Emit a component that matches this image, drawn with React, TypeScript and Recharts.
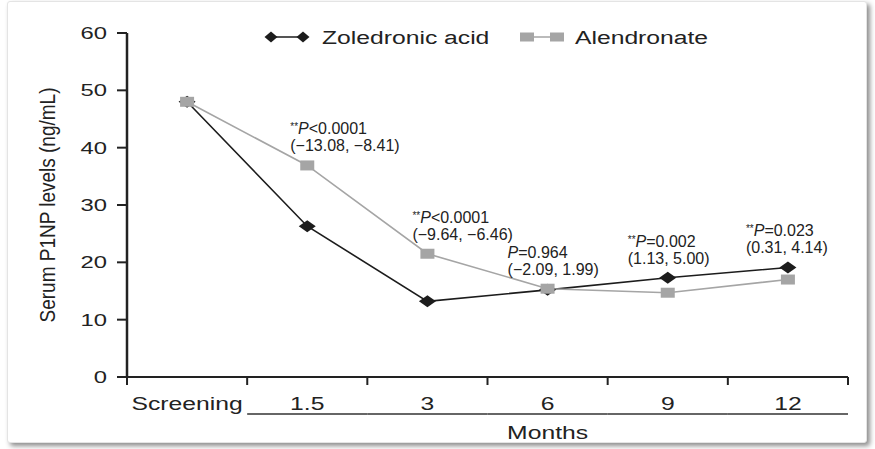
import React from 'react';
import { LineChart, Line, XAxis, YAxis, Legend, Label } from 'recharts';

const categories = ['Screening', '1.5', '3', '6', '9', '12'];
const zoledronicAcid = [48.0, 26.3, 13.2, 15.2, 17.3, 19.1];
const alendronate = [48.0, 36.9, 21.5, 15.4, 14.7, 17.0];
const yTicks = [0, 10, 20, 30, 40, 50, 60];

// between-group comparison at each visit
const pStars = [false, true, true, false, true, true];
const pValues = ['', '<0.0001', '<0.0001', '=0.964', '=0.002', '=0.023'];
const confidenceIntervals = [
  '',
  '(\u221213.08, \u22128.41)',
  '(\u22129.64, \u22126.46)',
  '(\u22122.09, 1.99)',
  '(1.13, 5.00)',
  '(0.31, 4.14)',
];

// horizontal shift of each annotation block from its point
const annotationDx = [0, -17, -15, -40, -40, -42];
const legendX: Record<string, number> = { zol: 265, aln: 520 };

const FONT = '"Liberation Sans", Arial, Helvetica, sans-serif';
const INK = '#222';
const ZOL_COLOR = '#1c1c1c';
const ALN_COLOR = '#a5a5a5';

const data = categories.map((name, i) => ({
  pos: i + 0.5,
  name,
  zol: zoledronicAcid[i],
  aln: alendronate[i],
}));

// band edges get tick marks, band centres get the visit labels
const xTicks: number[] = [];
for (let i = 0; i <= categories.length; i++) {
  xTicks.push(i);
  if (i < categories.length) xTicks.push(i + 0.5);
}

const Diamond = ({ cx, cy, w, h, fill }: any) => (
  <polygon
    points={`${cx},${cy - h / 2} ${cx + w / 2},${cy} ${cx},${cy + h / 2} ${cx - w / 2},${cy}`}
    fill={fill}
  />
);

const Square = ({ cx, cy, w, h, fill }: any) => (
  <rect x={cx - w / 2} y={cy - h / 2} width={w} height={h} fill={fill} />
);

function Annotation({ x, y, index }: { x: number; y: number; index: number }) {
  if (!pValues[index]) return null;
  const left = x + annotationDx[index];
  return (
    <text fontFamily={FONT} fontSize={16} fill={INK}>
      <tspan x={left} y={y - 31}>
        {pStars[index] && (
          <tspan fontSize={10} dy={-4}>
            **
          </tspan>
        )}
        <tspan fontStyle="italic" dy={pStars[index] ? 4 : 0}>
          P
        </tspan>
        <tspan>{pValues[index]}</tspan>
      </tspan>
      <tspan x={left} y={y - 14}>
        {confidenceIntervals[index]}
      </tspan>
    </text>
  );
}

const ZolDot = (props: any) => {
  const { cx, cy, index } = props;
  const onTop = zoledronicAcid[index] > alendronate[index];
  return (
    <g key={`zol-${index}`}>
      <Diamond cx={cx} cy={cy} w={17} h={12} fill={ZOL_COLOR} />
      {onTop && <Annotation x={cx} y={cy} index={index} />}
    </g>
  );
};

const AlnDot = (props: any) => {
  const { cx, cy, index } = props;
  const onTop = alendronate[index] >= zoledronicAcid[index];
  return (
    <g key={`aln-${index}`}>
      <Square cx={cx} cy={cy} w={14} h={10} fill={ALN_COLOR} />
      {onTop && <Annotation x={cx} y={cy} index={index} />}
    </g>
  );
};

const VisitTick = (props: any) => {
  const { x, y, payload, width } = props;
  const v = payload.value;
  if (Number.isInteger(v)) {
    return <line x1={x} x2={x} y1={y} y2={y + 8} stroke={INK} strokeWidth={2} />;
  }
  const i = Math.floor(v);
  const band = (width ?? 721) / categories.length;
  return (
    <g>
      <text
        transform={`translate(${x},${y + 33}) scale(1.3,1)`}
        textAnchor="middle"
        fontFamily={FONT}
        fontSize={19}
        fill={INK}
      >
        {categories[i]}
      </text>
      {i > 0 && (
        <line x1={x - band / 2} x2={x + band / 2} y1={y + 37} y2={y + 37} stroke="#333" strokeWidth={1.5} />
      )}
    </g>
  );
};

const LevelTick = (props: any) => {
  const { x, y, payload } = props;
  return (
    <text
      transform={`translate(${x},${y + 6}) scale(1.4,1)`}
      textAnchor="end"
      fontFamily={FONT}
      fontSize={17}
      fill={INK}
    >
      {payload.value}
    </text>
  );
};

const MonthsLabel = (props: any) => {
  const vb = props.viewBox ?? { x: 127, y: 377, width: 721 };
  const n = categories.length;
  // centred under the follow-up visits (everything after screening)
  const cx = vb.x + (vb.width * (1 + n)) / (2 * n);
  return (
    <text
      transform={`translate(${cx},${vb.y + 62}) scale(1.3,1)`}
      textAnchor="middle"
      fontFamily={FONT}
      fontSize={19}
      fill={INK}
    >
      Months
    </text>
  );
};

const LevelLabel = (props: any) => {
  const vb = props.viewBox ?? { x: 27, y: 33, width: 100, height: 344 };
  const cx = vb.x + 20;
  const cy = vb.y + vb.height / 2;
  return (
    <text
      transform={`translate(${cx},${cy}) scale(1.2,1) rotate(-90)`}
      textAnchor="middle"
      dy="0.36em"
      fontFamily={FONT}
      fontSize={19}
      fill={INK}
    >
      Serum P1NP levels (ng/mL)
    </text>
  );
};

const renderLegend = (props: any) => {
  const payload = props.payload ?? [];
  return (
    <svg width={875} height={30} style={{ display: 'block' }}>
      {payload.map((entry: any) => {
        const isZol = entry.dataKey === 'zol';
        const x0 = legendX[entry.dataKey] ?? 0;
        return (
          <g key={entry.value}>
            <line x1={x0 + 6} x2={x0 + 37} y1={15} y2={15} stroke={entry.color} strokeWidth={1.5} />
            {isZol ? (
              <>
                <Diamond cx={x0 + 6} cy={15} w={13} h={11} fill={ZOL_COLOR} />
                <Diamond cx={x0 + 38} cy={15} w={13} h={11} fill={ZOL_COLOR} />
              </>
            ) : (
              <>
                <Square cx={x0 + 7} cy={15} w={14} h={9} fill={ALN_COLOR} />
                <Square cx={x0 + 37} cy={15} w={14} h={9} fill={ALN_COLOR} />
              </>
            )}
            <text
              transform={`translate(${x0 + (isZol ? 57 : 55)},${22}) scale(1.3,1)`}
              fontFamily={FONT}
              fontSize={19}
              fill={INK}
            >
              {entry.value}
            </text>
          </g>
        );
      })}
    </svg>
  );
};

export default function App() {
  return (
    <div style={{ position: 'absolute', left: 0, top: 0, width: 875, height: 449, background: '#fff', overflow: 'hidden' }}>
      <div
        style={{
          position: 'absolute',
          left: 7,
          top: 1,
          width: 858,
          height: 440,
          border: '1px solid #e4e4e4',
          borderRadius: 3,
          boxShadow: '3px 3px 5px rgba(0,0,0,0.45)',
          background: '#fff',
        }}
      />
      <div style={{ position: 'absolute', left: 0, top: 0 }}>
        <LineChart width={875} height={449} data={data} margin={{ top: 3, right: 27, bottom: 12, left: 27 }}>
          <Legend verticalAlign="top" align="center" wrapperStyle={{ top: 22, left: 0, width: 875 }} content={renderLegend} />
          <XAxis
            type="number"
            dataKey="pos"
            domain={[0, categories.length]}
            ticks={xTicks}
            interval={0}
            height={60}
            tickSize={0}
            tickMargin={0}
            tickLine={false}
            axisLine={{ stroke: INK, strokeWidth: 2 }}
            tick={VisitTick}
          >
            <Label content={MonthsLabel} />
          </XAxis>
          <YAxis
            type="number"
            domain={[0, 60]}
            ticks={yTicks}
            width={100}
            tickSize={10}
            tickMargin={10}
            tickLine={{ stroke: INK, strokeWidth: 2 }}
            axisLine={{ stroke: INK, strokeWidth: 2.5 }}
            tick={LevelTick}
          >
            <Label content={LevelLabel} />
          </YAxis>
          <Line
            type="linear"
            dataKey="zol"
            name="Zoledronic acid"
            stroke={ZOL_COLOR}
            strokeWidth={1.6}
            dot={ZolDot}
            activeDot={false}
            isAnimationActive={false}
          />
          <Line
            type="linear"
            dataKey="aln"
            name="Alendronate"
            stroke={ALN_COLOR}
            strokeWidth={1.6}
            dot={AlnDot}
            activeDot={false}
            isAnimationActive={false}
          />
        </LineChart>
      </div>
    </div>
  );
}
